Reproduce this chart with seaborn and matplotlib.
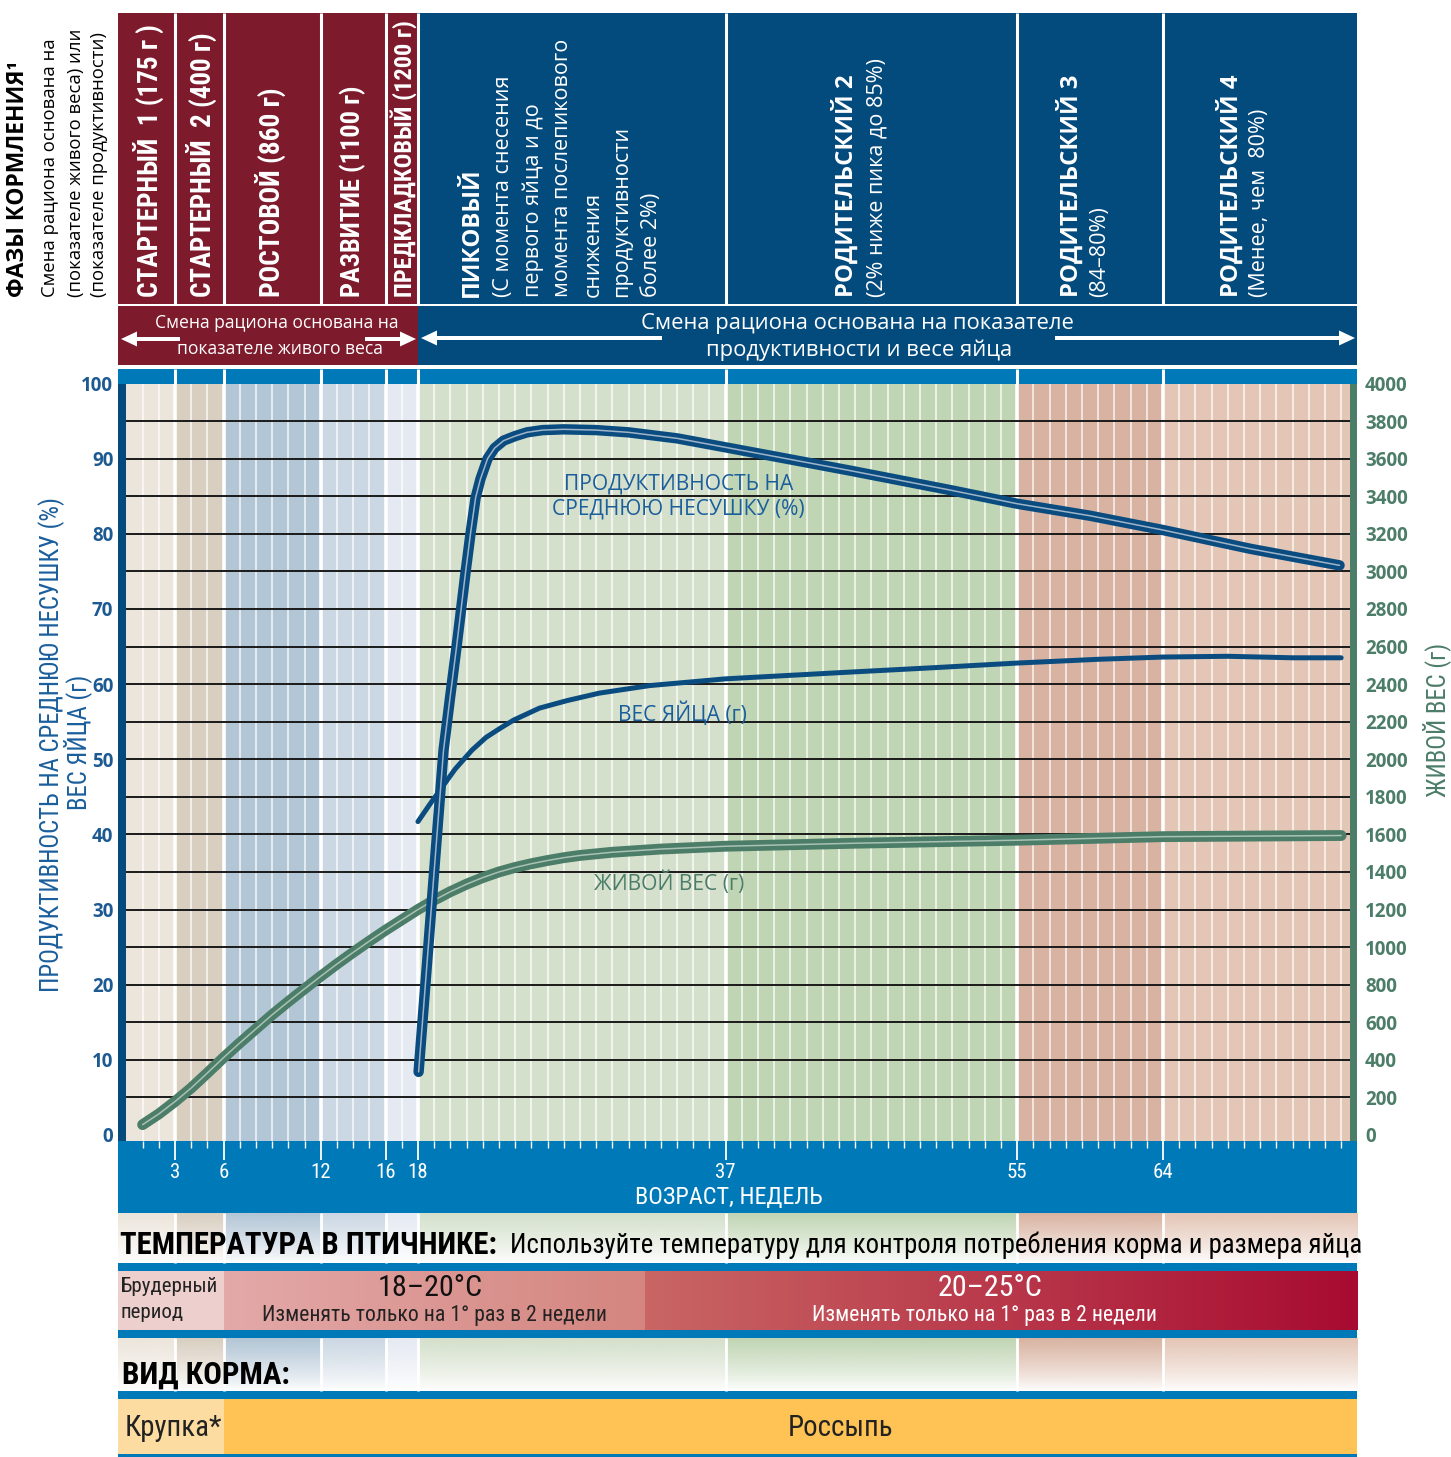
import numpy as np
import pandas as pd
import matplotlib
matplotlib.use("Agg")
import matplotlib.pyplot as plt
import seaborn as sns
from matplotlib import font_manager
from matplotlib.font_manager import FontProperties
from matplotlib.patches import Rectangle, FancyArrow
from matplotlib.colors import to_rgb

# ---------------- data ----------------
phase_edges = [0, 3, 6, 12, 16, 18, 37, 55, 64, 76]
phase_bg = ["#ECE5DB", "#D9CFC1", "#B3C6D6", "#CBD7E3", "#E5EAF2",
            "#D4E0CB", "#C0D5B3", "#D9B3A1", "#E4C6B6"]
week_ticks = [3, 6, 12, 16, 18, 37, 55, 64]
left_ticks = list(range(0, 101, 10))
right_ticks = list(range(0, 4001, 200))

prod_weeks = [18.04, 18.8, 19.58, 20.0, 20.38, 20.94, 21.25, 21.56, 21.86, 22.3, 22.73,
              23.29, 24.0, 24.73, 25.7, 27, 29, 31, 34, 37, 40, 44.7, 50.9, 55, 59.5, 64,
              69.4, 72.4, 74.9]
prod_pct = [8.4, 29.5, 51.2, 58.5, 64.9, 74.9, 80.1, 84.8, 87.3, 90.0, 91.4,
            92.4, 93.0, 93.5, 93.8, 93.9, 93.8, 93.5, 92.7, 91.5, 90.3, 88.4, 85.8, 84.0,
            82.4, 80.5, 78.0, 76.8, 75.8]

egg_weeks = [18.0, 18.7, 19.36, 20.3, 21.33, 22.2, 23.06, 23.9, 25.5, 27.2, 29.2, 32.3,
             37, 44.7, 50, 55, 60, 64, 68, 72, 75]
egg_g = [41.7, 43.9, 45.9, 48.7, 51.2, 52.9, 54.1, 55.2, 56.8, 57.8, 58.8, 59.8,
         60.7, 61.6, 62.2, 62.8, 63.3, 63.6, 63.7, 63.5, 63.5]

bw_weeks = [1, 2, 3, 4, 5, 6, 7, 8, 9, 10, 11, 12, 13, 14, 15, 16, 17, 18, 19, 20, 21,
            22, 23, 24, 25, 26, 27, 28, 30, 33, 37, 45, 55, 64, 75]
bw_g = [55, 112, 178, 250, 330, 412, 490, 565, 640, 710, 778, 845, 910, 972, 1032, 1090,
        1145, 1200, 1250, 1295, 1335, 1370, 1400, 1424, 1444, 1461, 1476, 1488, 1505,
        1522, 1537, 1553, 1569, 1588, 1594]

phase_names = ["СТАРТЕРНЫЙ  1 (175 г )", "СТАРТЕРНЫЙ  2 (400 г)", "РОСТОВОЙ (860 г)",
               "РАЗВИТИЕ (1100 г)", "ПРЕДКЛАДКОВЫЙ (1200 г)"]

# ---------------- fonts ----------------
sns.set_theme(style="white")
names = {f.name for f in font_manager.fontManager.ttflist}
MAIN = "Open Sans" if "Open Sans" in names else "DejaVu Sans"
COND = None
for n in ["Roboto Condensed", "Liberation Sans Narrow", "Open Sans Condensed"]:
    if n in names:
        COND = n
        break
plt.rcParams["font.family"] = [MAIN, "DejaVu Sans"]
MFAM = [MAIN, "DejaVu Sans"]
CFAM = [COND, "DejaVu Sans"] if COND else ["DejaVu Sans"]


def fp(size=12, weight="normal", cond=False):
    if cond:
        p = FontProperties(family=CFAM, size=size, weight=weight)
        if COND is None:
            p.set_stretch("condensed")
        return p
    return FontProperties(family=MFAM, size=size, weight=weight)


# ---------------- figure ----------------
W, H = 1451, 1457
fig = plt.figure(figsize=(W / 100, H / 100), dpi=100)
X0, PPW = 126.4, 16.197


def wx(w):
    return X0 + w * PPW


LEFT, RIGHT = wx(-0.5), wx(76)


def pax(x0, y0, x1, y1):
    return fig.add_axes([x0 / W, 1 - y1 / H, (x1 - x0) / W, (y1 - y0) / H])


deco = pax(0, 0, W, H)
deco.axis("off")
deco.set_zorder(0)
RND = fig.canvas.get_renderer()

MAROON = "#7D1A2C"
NAVY = "#034A7D"
BLUE = "#0079B8"
GREEN = "#4C7D69"
TXTBLUE = "#1A5E9C"
TICKBLUE = "#1D5A92"
LINEBLUE = "#0B4C80"


def rect(x0, y0, x1, y1, color, z=1):
    deco.add_patch(Rectangle((x0, y0), x1 - x0, y1 - y0, facecolor=color,
                             edgecolor="none", zorder=z))


def vsep(x, y0, y1, lw=2.2):
    deco.plot([x, x], [y0, y1], color="white", lw=lw, zorder=2, solid_capstyle="butt")


def fade(y0, y1):
    n = 64
    a = np.linspace(1, 0, n) ** 0.8
    for w0, w1, c in zip(phase_edges[:-1], phase_edges[1:], phase_bg):
        arr = np.zeros((n, 1, 4))
        arr[..., :3] = to_rgb(c)
        arr[:, 0, 3] = a
        xl = LEFT if w0 == 0 else wx(w0)
        deco.imshow(arr, extent=(xl, wx(w1), y1, y0), aspect="auto", zorder=1,
                    interpolation="bilinear")
    for e in phase_edges[1:-1]:
        vsep(wx(e), y0, y1, 2.0)


def hgrad(x0, x1, y0, y1, c0, c1):
    n = 128
    t = np.linspace(0, 1, n)
    arr = np.zeros((1, n, 3))
    arr[0] = np.outer(1 - t, to_rgb(c0)) + np.outer(t, to_rgb(c1))
    deco.imshow(arr, extent=(x0, x1, y1, y0), aspect="auto", zorder=1,
                interpolation="bilinear")


def fitlen(t, target, vertical=False):
    bb = t.get_window_extent(RND)
    cur = bb.height if vertical else bb.width
    if cur > 0:
        t.set_fontsize(t.get_fontsize() * target / cur)
    return t


def T(x, y, s, size=12, color="black", weight="normal", cond=False, rot=0,
      ha="center", va="center", fit=None):
    t = deco.text(x, y, s, fontproperties=fp(size, weight, cond), color=color,
                  rotation=rot, ha=ha, va=va, zorder=10)
    if fit:
        fitlen(t, fit, vertical=(rot == 90))
    return t


# ---- header ----
rect(LEFT, 13, wx(18), 304, MAROON)
rect(wx(18), 13, RIGHT, 304, NAVY)
rect(LEFT, 306, wx(18), 365, MAROON)
rect(wx(18), 306, RIGHT, 365, NAVY)
rect(LEFT, 369, RIGHT, 384, BLUE)
for e in phase_edges[1:-1]:
    vsep(wx(e), 13, 304)
    vsep(wx(e), 369, 384)


def arrow(x0, x1, y):
    deco.add_patch(FancyArrow(x0, y, x1 - x0, 0, width=4, head_width=15, head_length=16,
                              length_includes_head=True, color="white", zorder=5, lw=0))


arrow(180, 121, 339)
arrow(365, 416, 339)
arrow(662, 421, 338)
arrow(1055, 1355, 338)

t1 = T(277, 323, "Смена рациона основана на", color="white", fit=243)
T(280, 349, "показателе живого веса", color="white", size=t1.get_fontsize())
tA = T(857, 323, "Смена рациона основана на показателе", color="white", fit=432)
T(859, 350, "продуктивности и весе яйца", color="white", size=tA.get_fontsize())

# left header text
T(18, 297, "ФАЗЫ КОРМЛЕНИЯ¹", weight="bold", rot=90, va="bottom", fit=236)
tl = T(50, 297, "Смена рациона основана на", rot=90, va="bottom", fit=256)
T(76, 297, "(показателе живого веса) или", rot=90, va="bottom", size=tl.get_fontsize())
T(99, 297, "(показателе продуктивности)", rot=90, va="bottom", size=tl.get_fontsize())

# phase names (maroon)
for s, x, L in zip(phase_names, [148, 201, 270, 353, 404], [272, 265, 209, 212, 277]):
    T(x, 297, s, color="white", weight="bold", cond=True, rot=90, va="bottom", fit=L)

# navy header texts
tb = T(845, 297, "РОДИТЕЛЬСКИЙ 2", color="white", weight="bold", rot=90, va="bottom", fit=222)
BS = tb.get_fontsize()
T(472, 297, "ПИКОВЫЙ", color="white", weight="bold", rot=90, va="bottom", size=BS)
T(1070, 297, "РОДИТЕЛЬСКИЙ 3", color="white", weight="bold", rot=90, va="bottom", size=BS)
T(1230, 297, "РОДИТЕЛЬСКИЙ 4", color="white", weight="bold", rot=90, va="bottom", size=BS)
tr = T(563, 297, "момента послепикового", color="white", rot=90, va="bottom", fit=255)
RS = tr.get_fontsize()
for s, x in [("(С момента снесения", 503), ("первого яйца и до", 533), ("снижения", 593),
             ("продуктивности", 622), ("более 2%)", 652), ("(2% ниже пика до 85%)", 877),
             ("(84–80%)", 1100), ("(Менее, чем  80%)", 1260)]:
    T(x, 297, s, color="white", rot=90, va="bottom", size=RS)

# ---- bottom band & temperature / feed sections ----
rect(LEFT, 1141, RIGHT, 1213, BLUE)
fade(1213, 1263)
rect(LEFT, 1263, RIGHT, 1271, BLUE)
rect(LEFT, 1271, wx(6), 1330, "#EDD0CE")
hgrad(wx(6), wx(32), 1271, 1330, "#E3A9A8", "#D4857F")
hgrad(wx(32), RIGHT, 1271, 1330, "#C96664", "#A80B31")
rect(LEFT, 1330, RIGHT, 1338, BLUE)
fade(1338, 1391)
rect(LEFT, 1391, RIGHT, 1399, BLUE)
rect(LEFT, 1399, wx(6), 1454, "#FDDCA1")
rect(wx(6), 1399, RIGHT, 1454, "#FEC354")
rect(LEFT, 1454, RIGHT, 1457, BLUE)

T(729, 1197, "ВОЗРАСТ, НЕДЕЛЬ", color="white", cond=True, fit=187)
T(120, 1245, "ТЕМПЕРАТУРА В ПТИЧНИКЕ:", weight="bold", cond=True, ha="left", fit=377)
T(510, 1245, "Используйте температуру для контроля потребления корма и размера яйца",
  cond=True, ha="left", fit=850)
tb1 = T(120, 1287, "Брудерный", cond=True, ha="left", fit=97, color="#222222")
T(120, 1313, "период", cond=True, ha="left", size=tb1.get_fontsize(), color="#222222")
tt = T(430, 1288, "18–20°C", cond=True, fit=104, color="#111111")
T(990, 1288, "20–25°C", cond=True, size=tt.get_fontsize(), color="white")
ti = T(434, 1315, "Изменять только на 1° раз в 2 недели", cond=True, fit=343, color="#222222")
T(985, 1315, "Изменять только на 1° раз в 2 недели", cond=True, size=ti.get_fontsize(),
  color="white")
T(122, 1375, "ВИД КОРМА:", weight="bold", cond=True, ha="left", fit=168)
tk = T(125, 1428, "Крупка*", cond=True, ha="left", fit=97, color="#222222")
T(840, 1428, "Россыпь", cond=True, size=tk.get_fontsize(), color="#222222")

# axis titles
tp = T(52, 744, "ПРОДУКТИВНОСТЬ НА СРЕДНЮЮ НЕСУШКУ (%)", color=TXTBLUE, cond=True, rot=90,
       fit=493)
T(78, 742, "ВЕС ЯЙЦА (г)", color=TXTBLUE, cond=True, rot=90, size=tp.get_fontsize())
T(1437, 720, "ЖИВОЙ ВЕС (г)", color=GREEN, cond=True, rot=90, size=tp.get_fontsize())

deco.set_xlim(0, W)
deco.set_ylim(H, 0)

# ---------------- main chart ----------------
ax = pax(LEFT, 383.5, RIGHT, 1141)
ax.set_xlim(-0.5, 76)
ax.set_ylim(-0.8, 100)
ax2 = ax.twinx()
ax2.set_ylim(-32, 4000)
ax2.set_zorder(2)
ax.set_zorder(3)
ax.patch.set_visible(False)
ax2.patch.set_visible(False)

for w0, w1, c in zip(phase_edges[:-1], phase_edges[1:], phase_bg):
    ax2.axvspan(w0, w1, color=c, lw=0, zorder=0)
for w in range(1, 76):
    edge = w in phase_edges
    ax2.axvline(w, color="white", lw=2.6 if edge else 1.1, alpha=1 if edge else 0.85,
                zorder=0.5)
for g in range(200, 4000, 200):
    ax2.axhline(g, color="#1A1A1A", lw=1.4, zorder=1)

bw = pd.DataFrame({"week": bw_weeks, "g": bw_g})
sns.lineplot(data=bw, x="week", y="g", ax=ax2, color=GREEN, linewidth=7.8,
             solid_capstyle="round", zorder=3)
sns.lineplot(data=bw, x="week", y="g", ax=ax2, color="#A9C2B5", linewidth=1.1, zorder=4)

prod = pd.DataFrame({"week": prod_weeks, "pct": prod_pct})
egg = pd.DataFrame({"week": egg_weeks, "g": egg_g})
sns.lineplot(data=egg, x="week", y="g", ax=ax, color=LINEBLUE, linewidth=3.6,
             solid_capstyle="round", zorder=3)
sns.lineplot(data=prod, x="week", y="pct", ax=ax, color=LINEBLUE, linewidth=7.5,
             solid_capstyle="round", zorder=4)
sns.lineplot(data=prod, x="week", y="pct", ax=ax, color="#9FB4C8", linewidth=1.1, zorder=5)

ax.axvspan(-0.5, 0, color="#044A7C", lw=0, zorder=6)
ax.axvspan(75.52, 76, color=GREEN, lw=0, zorder=6)

# in-plot labels
la = ax.text(34.1, 86.6, "ПРОДУКТИВНОСТЬ НА", ha="center", va="center",
             color=TXTBLUE, fontproperties=fp(14), zorder=7)
lb = ax.text(34.1, 83.3, "СРЕДНЮЮ НЕСУШКУ (%)", ha="center", va="center",
             color=TXTBLUE, fontproperties=fp(14), zorder=7)
fitlen(lb, 254)
la.set_fontsize(lb.get_fontsize())
ax.text(34.3, 56.0, "ВЕС ЯЙЦА (г)", ha="center", va="center", color=TXTBLUE,
        fontproperties=fp(lb.get_fontsize()), zorder=7)
ax.text(33.5, 33.5, "ЖИВОЙ ВЕС (г)", ha="center", va="center", color=GREEN,
        fontproperties=fp(lb.get_fontsize()), zorder=7)

# ticks
ax.set_xticks(week_ticks)
ax.set_xticklabels([str(w) for w in week_ticks])
ax.set_xticks(np.arange(1, 76), minor=True)
ax.tick_params(axis="x", which="major", bottom=True, direction="out", length=14, width=1.3,
               color="white", labelcolor="white", pad=1.5)
ax.tick_params(axis="x", which="minor", bottom=True, direction="out", length=5, width=1.0,
               color="white")
for lab in ax.get_xticklabels():
    lab.set_fontproperties(fp(15, cond=True))
ax.set_yticks(left_ticks)
ax.set_yticklabels([str(v) for v in left_ticks])
ax.tick_params(axis="y", left=False, length=0, pad=3.6, labelcolor=TICKBLUE)
for lab in ax.get_yticklabels():
    lab.set_fontproperties(fp(13.5, "bold"))
ax2.set_yticks(right_ticks)
ax2.set_yticklabels([str(v) for v in right_ticks])
ax2.tick_params(axis="y", right=False, length=0, pad=5.5, labelcolor=GREEN)
for lab in ax2.get_yticklabels():
    lab.set_fontproperties(fp(13.5, "bold"))
for a in (ax, ax2):
    a.set_xlabel("")
    a.set_ylabel("")
    for s in a.spines.values():
        s.set_visible(False)
    a.grid(False)

fig.savefig("out.png", dpi=100, facecolor="white")
